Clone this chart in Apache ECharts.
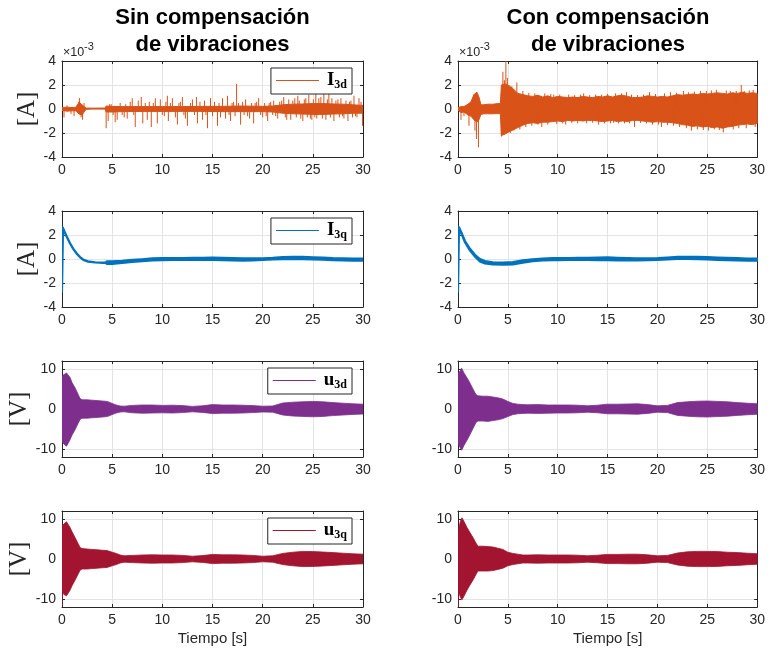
<!DOCTYPE html>
<html><head><meta charset="utf-8">
<script src="https://cdn.jsdelivr.net/npm/echarts@6/dist/echarts.min.js"></script>
<style>html,body{margin:0;padding:0;background:#fff}#c{width:768px;height:654px}</style>
</head><body><div id="c"></div>
<script>
// ---------------- DATA ----------------
const xTicks = [0, 5, 10, 15, 20, 25, 30];
const colTitles = ['Sin compensación\nde vibraciones', 'Con compensación\nde vibraciones'];
const legendNames = ['I3d', 'I3q', 'u3d', 'u3q'];

// I3d (x1e-3 A), Sin compensación: envelope of the dense core + isolated spikes
const I3dSinT  = [0, 0.5, 1.0, 1.4, 1.6, 1.8, 2.0, 2.2, 2.4, 3.0, 4.0, 4.3, 4.4, 5, 6, 8, 10, 12, 14, 16, 18, 20, 21, 22, 23, 24, 25, 26, 27, 28, 29, 30];
const I3dSinHi = [0.12, 0.15, 0.12, 0.15, 0.45, 0.5, 0.35, 0.2, 0.08, 0.07, 0.08, 0.08, 0.25, 0.22, 0.2, 0.2, 0.2, 0.2, 0.22, 0.22, 0.25, 0.22, 0.25, 0.35, 0.4, 0.42, 0.45, 0.45, 0.42, 0.4, 0.35, 0.3];
const I3dSinLo = [-0.12, -0.18, -0.15, -0.15, -0.35, -0.45, -0.5, -0.25, -0.02, 0.0, 0.0, 0.0, -0.25, -0.25, -0.22, -0.2, -0.2, -0.2, -0.2, -0.22, -0.22, -0.22, -0.25, -0.35, -0.4, -0.42, -0.45, -0.45, -0.42, -0.4, -0.35, -0.35];
const I3dSinSpikeT = [0.2, 0.5, 0.9, 1.2, 1.65, 1.75, 1.9, 2.05, 2.2, 4.4, 4.6, 4.75, 4.9, 5.1, 5.3, 5.5, 5.8, 6.0, 6.2, 6.35, 6.5, 6.8, 7.0, 7.15, 7.3, 7.6, 7.9, 8.05, 8.3, 8.5, 8.7, 8.9, 9.1, 9.3, 9.5, 9.8, 10.0, 10.2, 10.35, 10.5, 10.6, 10.8, 11.0, 11.3, 11.5, 11.65, 11.8, 12.0, 12.15, 12.3, 12.5, 12.8, 13.0, 13.2, 13.4, 13.5, 13.75, 14.0, 14.2, 14.35, 14.5, 14.8, 15.0, 15.2, 15.5, 15.65, 15.8, 16.0, 16.3, 16.5, 16.65, 16.8, 16.95, 17.1, 17.25, 17.4, 17.6, 17.8, 18.0, 18.15, 18.3, 18.5, 18.7, 18.9, 19.1, 19.25, 19.4, 19.6, 19.8, 20.0, 20.2, 20.35, 20.5, 20.65, 20.8, 21.0, 21.1, 21.3, 21.5, 21.7, 21.9, 22.1, 22.25, 22.4, 22.6, 22.8, 23.0, 23.2, 23.35, 23.5, 23.65, 23.8, 24.0, 24.15, 24.3, 24.45, 24.6, 24.75, 24.9, 25.05, 25.2, 25.3, 25.4, 25.6, 25.8, 25.95, 26.1, 26.3, 26.45, 26.6, 26.75, 26.9, 27.1, 27.3, 27.5, 27.65, 27.8, 27.95, 28.1, 28.3, 28.5, 28.65, 28.8, 28.95, 29.1, 29.25, 29.4, 29.6, 29.8, 29.95];
const I3dSinSpikeV = [-0.7, 0.3, -0.4, -0.6, 0.6, 0.9, -0.7, -0.9, 0.5, -1.6, -1.0, 0.4, 0.4, -0.5, -1.1, -0.9, 0.5, -0.5, -0.7, 0.4, -0.8, 0.6, 0.9, -0.5, -1.5, 0.7, 1.0, -1.2, 0.5, -0.9, 0.6, -1.5, 0.5, 0.9, -1.2, 0.8, -0.5, -0.6, 0.6, 1.1, -1.0, 0.5, 0.9, -0.7, -1.3, 0.5, 0.6, 1.0, -0.5, -0.8, -1.4, 0.5, 0.8, -0.5, 1.0, -1.2, 0.6, -0.9, 0.7, -0.5, -1.6, 0.9, -0.6, 0.6, -1.4, 0.5, -0.7, 0.9, -0.8, 1.1, -0.5, -1.0, 0.5, 0.6, -0.6, 2.1, 0.5, -1.3, 0.6, -0.5, 0.8, -0.6, -0.8, 0.5, -1.2, 0.5, 0.6, 0.9, -0.5, -0.7, 0.5, -0.6, -1.0, 0.5, 0.6, -0.5, 0.7, -0.6, -0.8, 0.6, 0.7, 1.0, -0.7, -0.9, 0.8, -0.9, 0.7, 0.9, -0.7, 1.1, 0.7, -0.8, -1.0, 0.8, 0.9, -0.7, 1.2, -0.8, -0.9, 0.8, -0.7, 1.3, -0.8, 0.9, 1.0, -0.8, 1.4, -0.9, 0.8, 1.4, -0.7, 0.9, -1.0, 0.7, 0.8, -0.7, 0.9, -0.6, -0.8, 0.7, -1.0, 0.6, 0.7, -0.7, 1.1, -0.6, -0.7, 0.9, 0.6, -1.4];

// I3d (x1e-3 A), Con compensación
const I3dConT  = [0, 0.3, 0.6, 1.0, 1.3, 1.6, 1.9, 2.1, 2.3, 2.6, 3.0, 3.5, 4.0, 4.25, 4.35, 4.7, 5.0, 5.5, 6.0, 6.5, 7, 7.5, 8, 8.5, 9, 9.5, 10, 10.5, 11, 11.5, 12, 12.5, 13, 13.5, 14, 14.5, 15, 15.5, 16, 16.5, 17, 17.5, 18, 18.5, 19, 19.5, 20, 20.5, 21, 21.5, 22, 22.5, 23, 23.5, 24, 24.5, 25, 25.5, 26, 26.5, 27, 27.5, 28, 28.5, 29, 29.5, 30];
const I3dConHi = [0.1, 0.2, 0.2, 0.4, 0.6, 1.2, 1.4, 1.0, 0.35, 0.35, 0.4, 0.4, 0.45, 0.45, 2.0, 2.1, 2.0, 1.7, 1.3, 1.2, 1.1, 1.05, 1.15, 1.0, 1.1, 0.95, 1.05, 1.0, 0.95, 1.0, 0.95, 1.05, 1.0, 0.95, 1.05, 1.0, 1.1, 1.0, 1.1, 1.15, 1.05, 0.95, 0.95, 1.0, 1.1, 1.05, 1.0, 1.05, 1.0, 1.1, 1.2, 1.15, 1.2, 1.25, 1.2, 1.3, 1.25, 1.3, 1.35, 1.3, 1.25, 1.35, 1.3, 1.4, 1.3, 1.35, 1.3];
const I3dConLo = [-0.1, -0.3, -0.25, -0.5, -0.6, -0.9, -1.1, -0.9, -0.45, -0.4, -0.4, -0.4, -0.38, -0.4, -2.2, -2.1, -1.95, -1.75, -1.55, -1.35, -1.2, -1.15, -1.2, -1.1, -1.1, -1.05, -1.0, -1.05, -0.95, -1.0, -0.95, -1.0, -0.95, -0.95, -1.0, -1.05, -1.0, -0.95, -1.05, -1.0, -1.05, -0.95, -0.95, -1.0, -1.05, -1.1, -1.05, -1.1, -1.1, -1.15, -1.2, -1.3, -1.35, -1.45, -1.4, -1.5, -1.45, -1.55, -1.5, -1.6, -1.5, -1.45, -1.35, -1.3, -1.25, -1.3, -1.2];
const I3dConSpikeT = [0.3, 0.6, 1.1, 1.55, 1.7, 1.85, 2.05, 4.35, 4.5, 4.65, 4.8, 4.95, 5.1, 5.25, 5.4, 5.6, 5.9, 6.2, 6.5, 6.8, 7.1, 7.4, 7.7, 8.0, 8.4, 8.7, 9.0, 9.3, 9.6, 9.9, 10.2, 10.5, 10.8, 11.1, 11.4, 11.7, 12.0, 12.3, 12.6, 12.9, 13.2, 13.5, 13.8, 14.1, 14.4, 14.7, 15.0, 15.3, 15.6, 15.8, 16.1, 16.4, 16.7, 16.9, 17.2, 17.4, 17.7, 18.0, 18.3, 18.6, 18.9, 19.2, 19.5, 19.8, 20.1, 20.4, 20.7, 21.0, 21.3, 21.6, 21.9, 22.2, 22.6, 22.9, 23.1, 23.4, 23.7, 24.0, 24.3, 24.6, 24.9, 25.1, 25.4, 25.7, 25.9, 26.2, 26.6, 26.9, 27.3, 27.6, 27.9, 28.15, 28.4, 28.7, 28.9, 29.2, 29.6, 29.8];
const I3dConSpikeV = [-0.9, -0.6, -1.4, 1.2, -1.8, -2.5, -3.2, -2.3, 3.1, 2.4, 4.0, 2.6, 2.0, -2.0, 1.9, -1.8, 2.2, -1.7, 1.5, -1.5, 1.35, -1.4, 1.3, -1.3, -1.5, 1.3, -1.3, 1.25, 1.2, -1.25, 1.2, -1.2, -1.3, 1.2, -1.15, 1.15, -1.2, 1.2, 1.3, -1.2, 1.15, -1.15, 1.2, -1.3, 1.2, -1.2, 1.25, -1.2, -1.15, 1.3, -1.2, 1.3, -1.2, 1.4, -1.2, 1.2, -1.5, 1.15, -1.15, 1.2, -1.2, 1.4, -1.3, 1.25, -1.3, -1.5, 1.3, -1.35, 1.4, -1.4, 1.35, -1.5, 1.5, -1.6, 1.4, -1.8, 1.45, -1.7, 1.5, -1.75, 1.5, -1.8, 1.55, -1.7, 1.6, -1.75, -1.95, 1.55, 1.5, -1.7, 1.5, -1.6, 2.0, 1.5, -1.6, 1.55, 1.6, -1.5];

// I3q (A), Sin compensación
const I3qSinT  = [0, 0.1, 0.27, 0.45, 0.8, 1.13, 1.47, 1.8, 2.13, 2.6, 3.3, 4.1, 4.35, 4.45, 5, 6, 7, 8, 9, 10, 11, 12, 13, 14, 15, 16, 17, 18, 19, 20, 21, 22, 23, 24, 25, 26, 27, 28, 29, 30];
const I3qSinHi = [2.65, 2.6, 2.26, 1.93, 1.31, 0.84, 0.46, 0.16, -0.06, -0.2, -0.27, -0.3, -0.3, -0.2, -0.2, -0.15, -0.08, -0.02, 0.05, 0.07, 0.08, 0.08, 0.09, 0.1, 0.12, 0.1, 0.07, 0.05, 0.05, 0.06, 0.1, 0.16, 0.18, 0.17, 0.14, 0.12, 0.08, 0.06, 0.04, 0.03];
const I3qSinLo = [-2.7, 2.55, 2.22, 1.9, 1.29, 0.82, 0.44, 0.14, -0.08, -0.22, -0.29, -0.32, -0.32, -0.4, -0.4, -0.33, -0.25, -0.18, -0.12, -0.1, -0.08, -0.08, -0.07, -0.07, -0.08, -0.1, -0.12, -0.14, -0.12, -0.08, -0.04, -0.02, 0.0, -0.02, -0.04, -0.06, -0.1, -0.12, -0.13, -0.13];

// I3q (A), Con compensación
const I3qConT  = [0, 0.1, 0.37, 0.7, 1.2, 1.7, 2.2, 2.7, 3.5, 4.5, 5.5, 6.5, 7.5, 8.5, 9.5, 10, 11, 12, 13, 14, 15, 16, 17, 18, 19, 20, 21, 22, 23, 24, 25, 26, 27, 28, 29, 30];
const I3qConHi = [2.7, 2.65, 2.15, 1.5, 0.85, 0.35, 0.0, -0.17, -0.27, -0.3, -0.25, -0.12, -0.03, 0.04, 0.07, 0.08, 0.08, 0.09, 0.1, 0.12, 0.13, 0.1, 0.08, 0.06, 0.06, 0.08, 0.12, 0.17, 0.18, 0.17, 0.15, 0.12, 0.1, 0.07, 0.04, 0.03];
const I3qConLo = [-2.7, 2.6, 2.05, 1.4, 0.7, 0.2, -0.2, -0.37, -0.45, -0.48, -0.45, -0.3, -0.18, -0.12, -0.1, -0.09, -0.08, -0.08, -0.08, -0.1, -0.1, -0.11, -0.12, -0.12, -0.1, -0.07, -0.03, 0.0, 0.0, -0.02, -0.04, -0.07, -0.1, -0.12, -0.13, -0.13];

// u3d (V), Sin compensación
const u3dSinT  = [0, 0.02, 0.2, 0.45, 0.8, 1.0, 1.3, 1.6, 1.8, 2.0, 2.5, 3.0, 3.5, 4.0, 4.5, 5.0, 5.4, 5.8, 6.2, 7, 8, 9, 10, 11, 12, 13, 14, 15, 16, 17, 18, 19, 20, 21, 22, 23, 24, 25, 26, 27, 28, 29, 30];
const u3dSinHi = [8.2, 8.3, 8.6, 9.0, 7.9, 6.6, 5.3, 3.7, 2.6, 2.3, 2.3, 2.2, 2.1, 2.0, 1.9, 1.4, 1.0, 0.75, 0.7, 0.9, 1.0, 1.0, 0.9, 0.95, 0.85, 0.65, 0.8, 1.1, 1.0, 1.0, 0.95, 0.85, 0.7, 0.75, 1.5, 1.7, 1.8, 1.9, 1.8, 1.6, 1.45, 1.3, 1.2];
const u3dSinLo = [-8.0, -8.2, -8.8, -9.3, -7.7, -6.5, -5.2, -3.6, -2.6, -2.3, -2.3, -2.2, -2.1, -2.0, -1.9, -1.4, -1.0, -0.75, -0.7, -0.95, -1.05, -1.0, -0.95, -1.0, -0.9, -0.7, -0.85, -1.15, -1.05, -1.05, -1.0, -0.9, -0.75, -0.8, -1.5, -1.75, -1.85, -1.95, -1.85, -1.65, -1.5, -1.35, -1.25];

// u3d (V), Con compensación
const u3dConT  = [0, 0.02, 0.2, 0.37, 0.6, 0.9, 1.2, 1.5, 1.8, 2.0, 2.5, 3.0, 3.5, 4.0, 4.5, 5.0, 5.5, 6.0, 6.5, 7, 8, 9, 10, 11, 12, 13, 14, 15, 16, 17, 18, 19, 20, 21, 22, 23, 24, 25, 26, 27, 28, 29, 30];
const u3dConHi = [8.5, 8.8, 9.5, 10.2, 9.0, 7.8, 6.5, 5.0, 3.6, 3.3, 3.2, 3.2, 3.0, 2.8, 2.5, 1.9, 1.4, 1.2, 1.1, 1.05, 1.1, 1.0, 1.0, 1.0, 0.95, 0.8, 0.95, 1.2, 1.2, 1.25, 1.3, 1.1, 0.8, 0.9, 1.6, 1.8, 1.95, 2.0, 1.9, 1.8, 1.6, 1.45, 1.3];
const u3dConLo = [-8.3, -8.6, -9.6, -10.3, -9.1, -7.8, -6.4, -4.9, -3.4, -3.0, -3.0, -3.1, -2.9, -2.7, -2.4, -1.9, -1.4, -1.2, -1.1, -1.05, -1.1, -1.05, -1.0, -1.0, -0.95, -0.8, -0.95, -1.2, -1.2, -1.25, -1.3, -1.1, -0.8, -0.9, -1.6, -1.8, -1.95, -2.0, -1.9, -1.8, -1.6, -1.45, -1.3];

// u3q (V), Sin compensación
const u3qSinT  = [0, 0.01, 0.05, 0.2, 0.45, 0.8, 1.0, 1.3, 1.6, 1.8, 2.0, 2.5, 3.0, 3.5, 4.0, 4.5, 5.0, 5.4, 5.8, 6.2, 7, 8, 9, 10, 11, 12, 13, 14, 15, 16, 17, 18, 19, 20, 21, 22, 23, 24, 25, 26, 27, 28, 29, 30];
const u3qSinHi = [8.0, 8.2, 8.4, 8.8, 9.3, 7.9, 6.8, 5.4, 3.9, 2.9, 2.6, 2.5, 2.4, 2.3, 2.2, 2.1, 1.7, 1.4, 1.0, 0.8, 0.9, 1.0, 1.05, 1.0, 1.0, 0.9, 0.7, 0.85, 1.15, 1.05, 1.05, 1.0, 0.9, 0.7, 0.8, 1.4, 1.7, 1.9, 1.85, 1.75, 1.6, 1.45, 1.3, 1.2];
const u3qSinLo = [-12, -8.2, -8.4, -8.9, -9.2, -7.8, -6.7, -5.3, -3.8, -2.8, -2.5, -2.5, -2.4, -2.3, -2.2, -2.1, -1.7, -1.4, -1.0, -0.8, -0.9, -1.0, -1.05, -1.0, -1.0, -0.9, -0.7, -0.85, -1.15, -1.05, -1.05, -1.0, -0.9, -0.7, -0.8, -1.4, -1.7, -1.9, -1.85, -1.75, -1.6, -1.45, -1.3, -1.2];

// u3q (V), Con compensación
const u3qConT  = [0, 0.01, 0.1, 0.25, 0.4, 0.6, 0.9, 1.2, 1.5, 1.8, 2.0, 2.5, 3.0, 3.5, 4.0, 4.5, 5.0, 5.5, 6.0, 6.5, 7, 8, 9, 10, 11, 12, 13, 14, 15, 16, 17, 18, 19, 20, 21, 22, 23, 24, 25, 26, 27, 28, 29, 30];
const u3qConHi = [6.0, 6.7, 8.0, 9.5, 10.3, 9.4, 7.9, 6.6, 5.4, 4.0, 3.2, 3.2, 3.1, 3.0, 2.7, 2.4, 1.7, 1.4, 1.2, 1.0, 1.0, 1.05, 1.0, 1.0, 1.0, 0.95, 0.8, 0.95, 1.15, 1.15, 1.2, 1.2, 1.05, 0.8, 0.9, 1.5, 1.8, 1.9, 1.9, 1.85, 1.7, 1.6, 1.45, 1.3];
const u3qConLo = [-12, -8.0, -8.5, -9.6, -10.2, -9.3, -7.8, -6.5, -5.3, -3.9, -3.0, -3.0, -3.0, -2.9, -2.6, -2.3, -1.7, -1.4, -1.2, -1.0, -1.0, -1.05, -1.0, -1.0, -1.0, -0.95, -0.8, -0.95, -1.15, -1.15, -1.2, -1.2, -1.05, -0.8, -0.9, -1.5, -1.8, -1.9, -1.9, -1.85, -1.7, -1.6, -1.45, -1.3];

const ticksA = [-4, -2, 0, 2, 4];
const ticksV = [-10, 0, 10];

// ---------------- STYLE / LAYOUT ----------------
const C = { I3d: '#D95319', I3q: '#0072BD', u3d: '#7E2F8E', u3q: '#A2142F' };
const SANS = '"Liberation Sans", Arial, Helvetica, sans-serif';
const SERIF = '"Liberation Serif", "DejaVu Serif", serif';
const AX = '#262626';
const colLeft = [62, 458], colWidth = [301, 300];
const rowTop = [61, 211, 361, 511], rowH = 96;

const panels = [
  { r: 0, c: 0, key: 'I3d', t: I3dSinT, hi: I3dSinHi, lo: I3dSinLo, spT: I3dSinSpikeT, spV: I3dSinSpikeV, ticks: ticksA, min: -4, max: 4, yName: '[A]', gap: 21, lw: 1 },
  { r: 0, c: 1, key: 'I3d', t: I3dConT, hi: I3dConHi, lo: I3dConLo, spT: I3dConSpikeT, spV: I3dConSpikeV, ticks: ticksA, min: -4, max: 4, lw: 1 },
  { r: 1, c: 0, key: 'I3q', t: I3qSinT, hi: I3qSinHi, lo: I3qSinLo, ticks: ticksA, min: -4, max: 4, yName: '[A]', gap: 21, lw: 2.2 },
  { r: 1, c: 1, key: 'I3q', t: I3qConT, hi: I3qConHi, lo: I3qConLo, ticks: ticksA, min: -4, max: 4, lw: 2.2 },
  { r: 2, c: 0, key: 'u3d', t: u3dSinT, hi: u3dSinHi, lo: u3dSinLo, ticks: ticksV, min: -12, max: 12, yName: '[V]', gap: 28, lw: 0.8 },
  { r: 2, c: 1, key: 'u3d', t: u3dConT, hi: u3dConHi, lo: u3dConLo, ticks: ticksV, min: -12, max: 12, lw: 0.8 },
  { r: 3, c: 0, key: 'u3q', t: u3qSinT, hi: u3qSinHi, lo: u3qSinLo, ticks: ticksV, min: -12, max: 12, yName: '[V]', gap: 28, lw: 0.8 },
  { r: 3, c: 1, key: 'u3q', t: u3qConT, hi: u3qConHi, lo: u3qConLo, ticks: ticksV, min: -12, max: 12, lw: 0.8 }
];

const grid = [], xAxis = [], yAxis = [], series = [], legend = [];
const lineAx = { show: true, onZero: false, lineStyle: { color: AX, width: 1 } };
const tickAx = (vals) => ({ show: true, inside: true, length: 3, lineStyle: { color: AX, width: 1 }, customValues: vals });

panels.forEach((p, i) => {
  grid.push({ left: colLeft[p.c], width: colWidth[p.c], top: rowTop[p.r], height: rowH, containLabel: false });
  const bottomRow = p.r === 3;
  xAxis.push({
    type: 'value', gridIndex: i, position: 'bottom', min: 0, max: 30,
    axisLine: lineAx, axisTick: tickAx(xTicks),
    axisLabel: { show: true, customValues: xTicks, color: AX, fontSize: 14, fontFamily: SANS, margin: 6 },
    splitLine: { show: true, lineStyle: { color: '#e4e4e4', width: 1 } },
    name: bottomRow ? 'Tiempo [s]' : '', nameLocation: 'middle', nameGap: 24,
    nameTextStyle: { color: AX, fontSize: 15, fontFamily: SANS }
  });
  xAxis.push({
    type: 'value', gridIndex: i, position: 'top', min: 0, max: 30,
    axisLine: lineAx, axisTick: tickAx(xTicks), axisLabel: { show: false, customValues: xTicks }, splitLine: { show: false }
  });
  yAxis.push({
    type: 'value', gridIndex: i, position: 'left', min: p.min, max: p.max,
    axisLine: lineAx, axisTick: tickAx(p.ticks),
    axisLabel: { show: true, customValues: p.ticks, color: AX, fontSize: 14, fontFamily: SANS, margin: 6 },
    splitLine: { show: true, lineStyle: { color: '#e4e4e4', width: 1 } },
    name: p.yName || '', nameLocation: 'middle', nameRotate: 90, nameGap: p.gap || 25,
    nameTextStyle: { color: AX, fontSize: 25, fontFamily: SERIF }
  });
  yAxis.push({
    type: 'value', gridIndex: i, position: 'right', min: p.min, max: p.max,
    axisLine: lineAx, axisTick: tickAx(p.ticks), axisLabel: { show: false, customValues: p.ticks }, splitLine: { show: false }
  });

  const color = C[p.key];
  const rows = p.t.map((t, k) => [t, p.hi[k], p.lo[k]]);
  series.push({
    type: 'custom', name: p.c === 0 ? p.key : p.key + ' (con)',
    xAxisIndex: 2 * i, yAxisIndex: 2 * i, clip: true, silent: true,
    itemStyle: { color: color }, data: rows, encode: { x: 0, y: [1, 2] },
    renderItem: (params, api) => {
      if (params.dataIndex !== 0) return null;
      const up = rows.map(d => api.coord([d[0], d[1]]));
      const dn = rows.map(d => api.coord([d[0], d[2]])).reverse();
      return { type: 'polygon', shape: { points: up.concat(dn) },
               style: { fill: color, stroke: color, lineWidth: p.lw, lineJoin: 'round' } };
    }
  });
  if (p.spT) {
    series.push({
      type: 'custom', xAxisIndex: 2 * i, yAxisIndex: 2 * i, clip: true, silent: true,
      itemStyle: { color: color },
      data: p.spT.map((t, k) => [t, p.spV[k]]), encode: { x: 0, y: 1 },
      renderItem: (params, api) => {
        const a = api.coord([api.value(0), 0]);
        const b = api.coord([api.value(0), api.value(1)]);
        return { type: 'line', shape: { x1: a[0], y1: a[1], x2: b[0], y2: b[1] },
                 style: { stroke: color, lineWidth: 1 } };
      }
    });
  }
  if (p.c === 0) {
    legend.push({
      data: [{ name: p.key, icon: 'rect' }],
      right: 768 - (colLeft[0] + colWidth[0]) + 11, top: rowTop[p.r] + 7,
      orient: 'horizontal', selectedMode: false,
      itemWidth: 43, itemHeight: 1.2,
      padding: [3, 5, 3, 5],
      borderColor: AX, borderWidth: 1, backgroundColor: '#fff',
      formatter: n => '{m|' + n.charAt(0) + '}{s|' + n.slice(1) + '}',
      textStyle: {
        color: '#000',
        rich: {
          m: { fontFamily: SERIF, fontWeight: 'bold', fontSize: 19, padding: [0, 0, 0, 3] },
          s: { fontFamily: SERIF, fontWeight: 'bold', fontSize: 12, padding: [9, 0, 0, 0] }
        }
      }
    });
  }
});

const graphic = [];
[0, 1].forEach(c => {
  const cx = colLeft[c] + colWidth[c] / 2;
  graphic.push({ type: 'text', x: cx, y: 4, silent: true,
    style: { text: colTitles[c], fontFamily: SANS, fontWeight: 'bold', fontSize: 22, lineHeight: 27,
             fill: '#000', align: 'center', verticalAlign: 'top' } });
  graphic.push({ type: 'text', x: colLeft[c] + 1, y: 53, silent: true,
    style: { text: '×10', fontFamily: SANS, fontSize: 12.5, fill: AX, align: 'left', verticalAlign: 'middle' } });
  graphic.push({ type: 'text', x: colLeft[c] + 22, y: 47, silent: true,
    style: { text: '-3', fontFamily: SANS, fontSize: 11, fill: AX, align: 'left', verticalAlign: 'middle' } });
});

const chart = echarts.init(document.getElementById('c'), null, { renderer: 'canvas' });
chart.setOption({
  animation: false, backgroundColor: '#fff',
  grid, xAxis, yAxis, series, legend, graphic
});
</script></body></html>
